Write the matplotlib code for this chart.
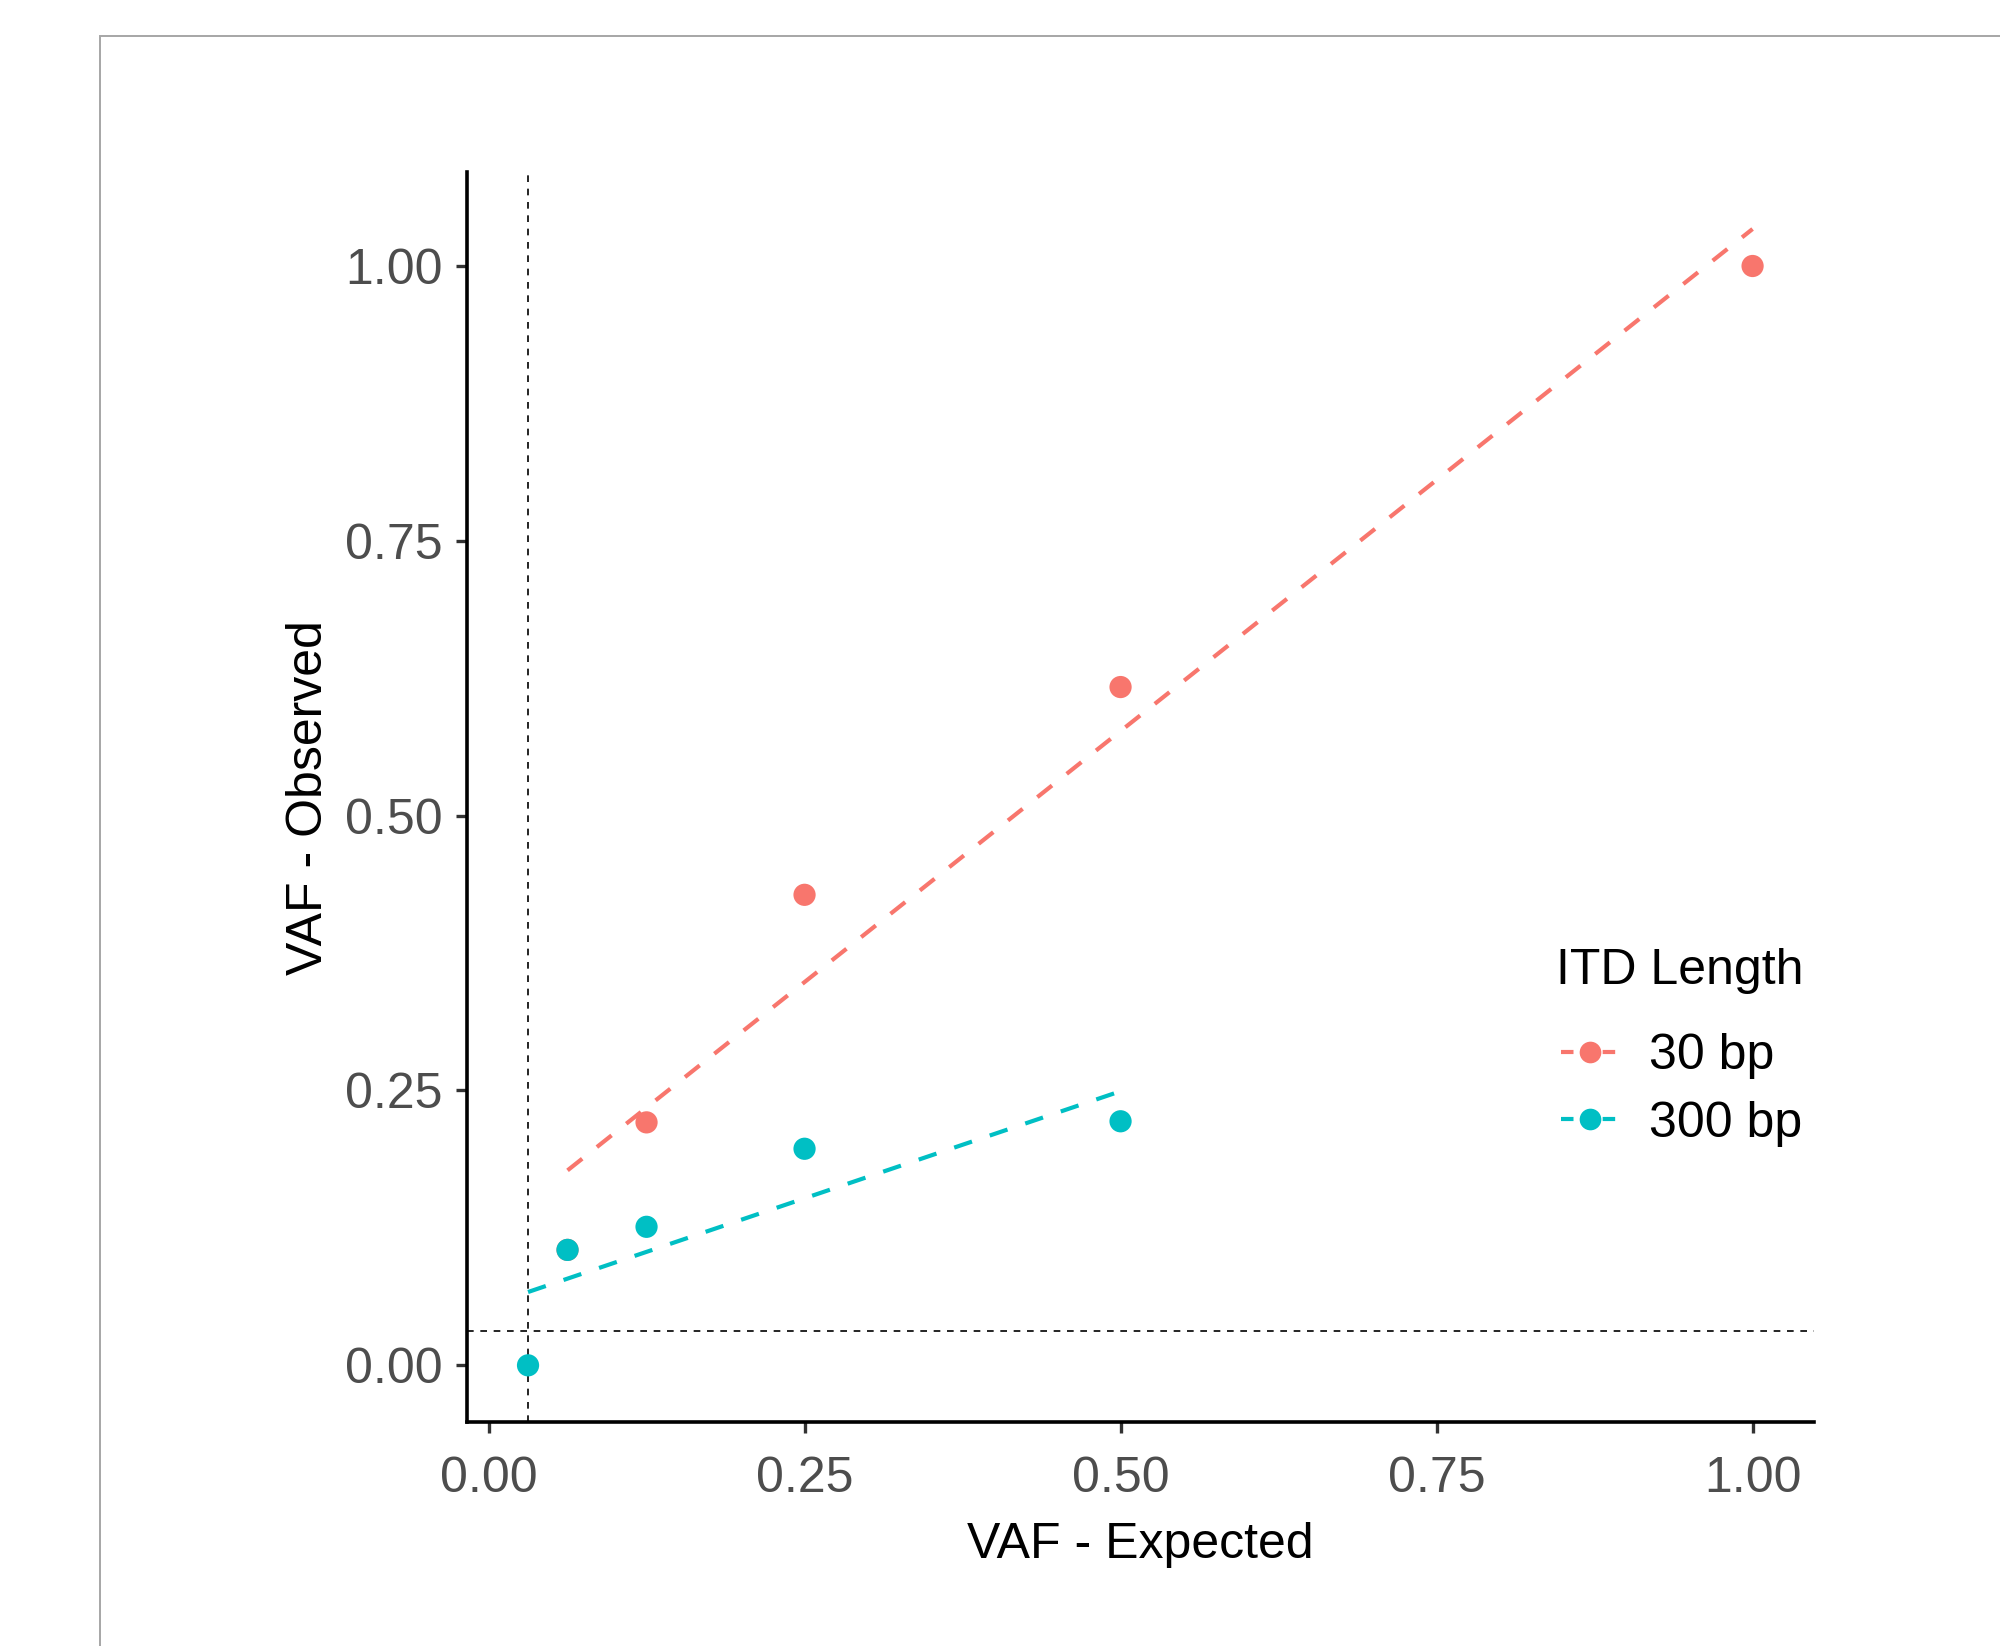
import numpy as np
import matplotlib
matplotlib.use("Agg")
import matplotlib.pyplot as plt
from matplotlib.lines import Line2D
from matplotlib.patches import Rectangle

plt.rcParams["font.family"] = ["Liberation Sans", "DejaVu Sans"]

# data
x_30 = [0.0625, 0.125, 0.25, 0.5, 1.0]
y_30 = [0.105, 0.221, 0.428, 0.617, 1.0]
x_300 = [0.03125, 0.0625, 0.125, 0.25, 0.5]
y_300 = [0.0, 0.105, 0.126, 0.197, 0.222]
labels = ["30 bp", "300 bp"]
colors = ["#F8766D", "#00BFC4"]
ref_x = 0.03125
ref_y = 0.03125
ticks = [0.0, 0.25, 0.5, 0.75, 1.0]
tick_labels = ["0.00", "0.25", "0.50", "0.75", "1.00"]


def main():
    fig = plt.figure(figsize=(10, 8.23), dpi=200)
    ax = fig.add_axes([0.2334, 0.1360, 0.6735, 0.7594])

    # outer grey frame
    fig.patches.append(Rectangle((0.0498, -0.2), 1.3, 0.9783 + 0.2,
                                 transform=fig.transFigure, fill=False,
                                 edgecolor="#A6A6A6", linewidth=0.7))

    # linear fits per group
    series = [(x_30, y_30), (x_300, y_300)]
    fits = []
    for (xs, ys), c in zip(series, colors):
        xs = np.array(xs)
        k, b = np.polyfit(xs, ys, 1)
        xf = np.array([xs.min(), xs.max()])
        fits.append(k * xf + b)
        ax.plot(xf, k * xf + b, color=c, lw=1.5, dashes=(4.5, 4.5), zorder=2)
    for (xs, ys), c in zip(series, colors):
        ax.scatter(xs, ys, s=64, color=c, edgecolors="none", zorder=3)

    ax.axvline(ref_x, color="black", lw=0.6, dashes=(4, 4), zorder=1)
    ax.axhline(ref_y, color="black", lw=0.6, dashes=(4, 4), zorder=1)

    all_x = np.concatenate([x_30, x_300])
    all_y = np.concatenate([y_30, y_300] + fits)
    xr = all_x.max() - all_x.min()
    yr = all_y.max() - all_y.min()
    ax.set_xlim(all_x.min() - 0.05 * xr, all_x.max() + 0.05 * xr)
    ax.set_ylim(all_y.min() - 0.05 * yr, all_y.max() + 0.05 * yr)

    ax.set_xticks(ticks)
    ax.set_xticklabels(tick_labels)
    ax.set_yticks(ticks)
    ax.set_yticklabels(tick_labels)
    ax.tick_params(labelsize=18, labelcolor="#4D4D4D", color="#333333",
                   width=1.2, length=3.8)
    ax.tick_params(axis="x", pad=8.5)
    ax.tick_params(axis="y", pad=5)
    for s in ["top", "right"]:
        ax.spines[s].set_visible(False)
    for s in ["left", "bottom"]:
        ax.spines[s].set_linewidth(1.3)

    ax.set_xlabel("VAF - Expected", fontsize=18, labelpad=7)
    ax.set_ylabel("VAF - Observed", fontsize=18, labelpad=4.6)

    # legend
    fig.text(0.778, 0.410, "ITD Length", fontsize=18, ha="left", va="center")
    handles = [Line2D([0], [0], color=c, lw=1.5, dashes=(3, 2), marker="o",
                      markersize=7.8, markeredgewidth=0) for c in colors]
    ax.legend(handles, labels, fontsize=18, frameon=False, loc="center left",
              bbox_to_anchor=(0.7806, 0.3378), bbox_transform=fig.transFigure,
              handlelength=1.15, handletextpad=0.6, labelspacing=0.43,
              borderpad=0, borderaxespad=0)

    fig.savefig("out.png", dpi=200)


if __name__ == "__main__":
    main()
